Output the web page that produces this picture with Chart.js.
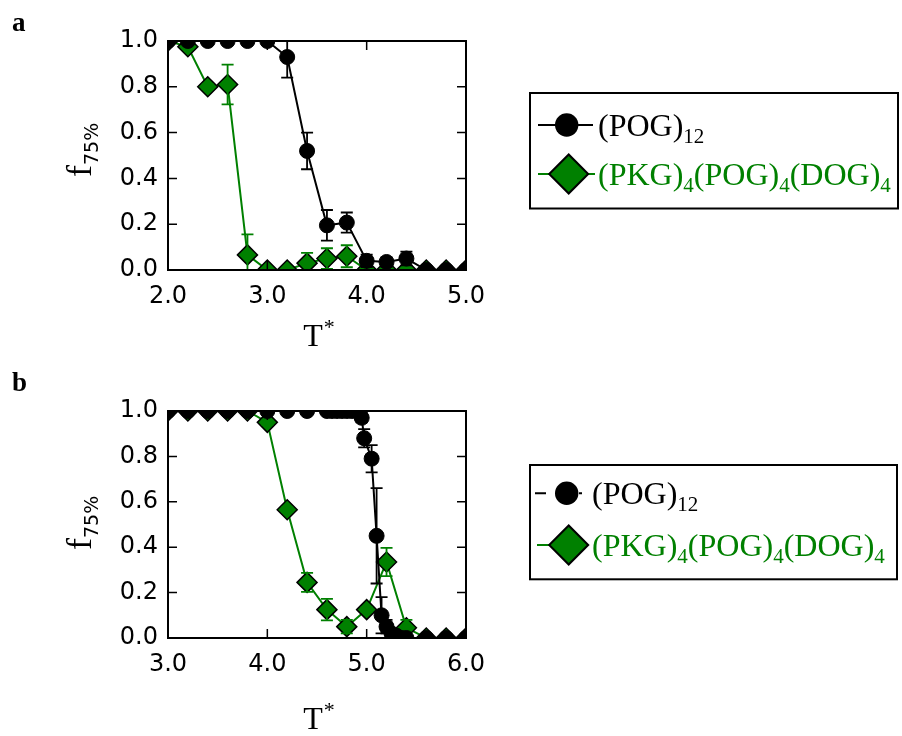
<!DOCTYPE html>
<html>
<head>
<meta charset="utf-8">
<script src="https://cdn.jsdelivr.net/npm/chart.js@4.4.0/dist/chart.umd.min.js"></script>
<style>
  html, body { margin: 0; padding: 0; background: #fff; }
  .panel { width: 902px; height: 368px; }
  canvas { display: block; }
</style>
</head>
<body>
<div class="panel"><canvas id="chartA" width="902" height="368"></canvas></div>
<div class="panel"><canvas id="chartB" width="902" height="368"></canvas></div>
<script>
// ---- panel a ----
const tempA   = [2.0, 2.2, 2.4, 2.6, 2.8, 3.0, 3.2, 3.4, 3.6, 3.8, 4.0, 4.2, 4.4, 4.6, 4.8, 5.0];
const pogA    = [1.00, 1.00, 1.00, 1.00, 1.00, 1.00, 0.93, 0.52, 0.195, 0.207, 0.04, 0.035, 0.05, 0.00, 0.00, 0.00];
const pogAErr = [0, 0, 0, 0, 0, 0, 0.09, 0.08, 0.067, 0.044, 0.027, 0.02, 0.03, 0, 0, 0];
const pkgA    = [1.00, 0.975, 0.80, 0.81, 0.066, 0.00, 0.00, 0.03, 0.05, 0.06, 0.00, 0.00, 0.00, 0.00, 0.00, 0.00];
const pkgAErr = [0, 0.01, 0.01, 0.087, 0.09, 0, 0, 0.045, 0.045, 0.048, 0, 0, 0, 0, 0, 0];
const xTicksA = [2.0, 3.0, 4.0, 5.0];

// ---- panel b ----
const tempB    = [3.0, 3.2, 3.4, 3.6, 3.8, 4.0, 4.2, 4.4, 4.6, 4.8, 5.0, 5.2, 5.4, 5.6, 5.8, 6.0];
const pkgB     = [1.00, 1.00, 1.00, 1.00, 1.00, 0.95, 0.565, 0.245, 0.125, 0.05, 0.125, 0.335, 0.045, 0.00, 0.00, 0.00];
const pkgBErr  = [0, 0, 0, 0, 0, 0.01, 0.01, 0.042, 0.047, 0.03, 0.01, 0.062, 0.035, 0, 0, 0];
const tempBPog = [3.0, 3.2, 3.4, 3.6, 3.8, 4.0, 4.2, 4.4, 4.6, 4.65, 4.7, 4.75, 4.8, 4.85, 4.9, 4.95,
                  4.975, 5.05, 5.1, 5.15, 5.2, 5.25, 5.3, 5.35, 5.4, 5.6, 5.8, 6.0];
const pogB     = [1, 1, 1, 1, 1, 1, 1, 1, 1, 1, 1, 1, 1, 1, 1, 0.97,
                  0.88, 0.79, 0.45, 0.10, 0.05, 0.02, 0.01, 0, 0, 0, 0, 0];
const pogBErr  = [0, 0, 0, 0, 0, 0, 0, 0, 0, 0, 0, 0, 0, 0, 0, 0.02,
                  0.04, 0.06, 0.21, 0.08, 0.03, 0.01, 0, 0, 0, 0, 0, 0];
const xTicksB  = [3.0, 4.0, 5.0, 6.0];

const yTicks = [0.0, 0.2, 0.4, 0.6, 0.8, 1.0];

const GREEN = '#008000';
const SERIF = '"Liberation Serif", "Times New Roman", serif';
const SANS = '"DejaVu Sans", sans-serif';

function pts(xs, ys) {
  return xs.map((x, i) => ({ x: x, y: ys[i] }));
}

// each dataset is clipped to the axes box; its error bars are drawn inside the same clip
const errorBars = {
  id: 'errorBars',
  beforeDatasetDraw(chart) {
    const { ctx, chartArea: a } = chart;
    ctx.save();
    ctx.beginPath();
    ctx.rect(a.left, a.top, a.right - a.left, a.bottom - a.top);
    ctx.clip();
  },
  afterDatasetDraw(chart, args) {
    const ds = chart.data.datasets[args.index];
    const ctx = chart.ctx;
    if (ds.errors) {
      const xs = chart.scales.x, ys = chart.scales.y;
      ctx.strokeStyle = ds.borderColor;
      ctx.lineWidth = 1.8;
      ds.data.forEach((p, i) => {
        const e = ds.errors[i];
        if (!e) return;
        const px = xs.getPixelForValue(p.x);
        const lo = ys.getPixelForValue(p.y - e);
        const hi = ys.getPixelForValue(p.y + e);
        ctx.beginPath();
        ctx.moveTo(px, lo); ctx.lineTo(px, hi);
        ctx.moveTo(px - 6, lo); ctx.lineTo(px + 6, lo);
        ctx.moveTo(px - 6, hi); ctx.lineTo(px + 6, hi);
        ctx.stroke();
      });
    }
    ctx.restore();
  }
};

// box frame with inward ticks on all four sides
const frame = {
  id: 'frame',
  afterDatasetsDraw(chart) {
    const { ctx, chartArea: a } = chart;
    ctx.save();
    ctx.strokeStyle = '#000';
    ctx.lineWidth = 1.5;
    ctx.beginPath();
    chart.scales.x.ticks.forEach(t => {
      const px = chart.scales.x.getPixelForValue(t.value);
      ctx.moveTo(px, a.bottom); ctx.lineTo(px, a.bottom - 9);
      ctx.moveTo(px, a.top); ctx.lineTo(px, a.top + 9);
    });
    chart.scales.y.ticks.forEach(t => {
      const py = chart.scales.y.getPixelForValue(t.value);
      ctx.moveTo(a.left, py); ctx.lineTo(a.left + 9, py);
      ctx.moveTo(a.right, py); ctx.lineTo(a.right - 9, py);
    });
    ctx.stroke();
    ctx.lineWidth = 2;
    ctx.strokeRect(a.left, a.top, a.right - a.left, a.bottom - a.top);
    ctx.restore();
  }
};

// text pieces with subscripts: [text, isSub]
function drawRich(ctx, x, y, parts, size, subSize, subDrop, color) {
  ctx.fillStyle = color;
  ctx.textBaseline = 'alphabetic';
  ctx.textAlign = 'left';
  parts.forEach(([txt, sub]) => {
    ctx.font = (sub ? subSize : size) + 'px ' + SERIF;
    ctx.fillText(txt, x, sub ? y + subDrop : y);
    x += ctx.measureText(txt).width;
  });
}

const decorations = {
  id: 'decorations',
  afterDraw(chart) {
    const o = chart.options.plugins.decorations;
    const { ctx, chartArea: a } = chart;
    ctx.save();

    // panel letter
    ctx.fillStyle = '#000';
    ctx.font = 'bold 27px ' + SERIF;
    ctx.textBaseline = 'alphabetic';
    ctx.fillText(o.letter, 12, o.letterY);

    // y axis title f_75%
    ctx.save();
    ctx.translate(91, o.yLabelBottom);
    ctx.rotate(-Math.PI / 2);
    ctx.font = '36px ' + SERIF;
    ctx.fillText('f', 0, 0);
    const fw = ctx.measureText('f').width;
    ctx.font = '19px ' + SANS;
    ctx.fillText('75%', fw, 7);
    ctx.restore();

    // x axis title T*
    ctx.font = '32px ' + SERIF;
    ctx.textAlign = 'left';
    const tw = ctx.measureText('T').width;
    const tx = (a.left + a.right) / 2 - (tw + 8) / 2;
    ctx.fillText('T', tx, o.xLabelY);
    ctx.font = '22px ' + SERIF;
    ctx.fillText('*', tx + tw + 1, o.xLabelY - 12);

    // legend
    const L = o.legend;
    ctx.strokeStyle = '#000';
    ctx.lineWidth = 2;
    ctx.strokeRect(L.box[0], L.box[1], L.box[2] - L.box[0], L.box[3] - L.box[1]);

    // row 1 line + circle
    ctx.beginPath();
    L.seg1.forEach(([x0, x1]) => { ctx.moveTo(x0, L.y1); ctx.lineTo(x1, L.y1); });
    ctx.stroke();
    ctx.beginPath();
    ctx.arc(L.mx, L.y1, 11.7, 0, Math.PI * 2);
    ctx.fillStyle = '#000';
    ctx.fill();

    // row 2 line + diamond
    ctx.strokeStyle = GREEN;
    ctx.beginPath();
    L.seg2.forEach(([x0, x1]) => { ctx.moveTo(x0, L.y2); ctx.lineTo(x1, L.y2); });
    ctx.stroke();
    const d = 19.5, cx = L.mx + 2;
    ctx.beginPath();
    ctx.moveTo(cx - d, L.y2); ctx.lineTo(cx, L.y2 - d);
    ctx.lineTo(cx + d, L.y2); ctx.lineTo(cx, L.y2 + d);
    ctx.closePath();
    ctx.fillStyle = GREEN;
    ctx.fill();
    ctx.strokeStyle = '#000';
    ctx.lineWidth = 2;
    ctx.stroke();

    drawRich(ctx, L.tx, L.y1 + 10.5, [['(POG)', false], ['12', true]], 32, 21, 7, '#000');
    drawRich(ctx, L.tx, L.y2 + 10.5, [['(PKG)', false], ['4', true], ['(POG)', false], ['4', true],
      ['(DOG)', false], ['4', true]], 32, 21, 7, GREEN);

    ctx.restore();
  }
};

function makeChart(id, cfg) {
  return new Chart(document.getElementById(id), {
    type: 'line',
    data: {
      datasets: [
        {
          label: '(POG)12',
          data: pts(cfg.pogX, cfg.pog),
          errors: cfg.pogErr,
          borderColor: '#000',
          borderWidth: 2,
          pointStyle: 'circle',
          pointRadius: 7.5,
          pointBackgroundColor: '#000',
          pointBorderColor: '#000',
          pointBorderWidth: 1,
          clip: false
        },
        {
          label: '(PKG)4(POG)4(DOG)4',
          data: pts(cfg.pkgX, cfg.pkg),
          errors: cfg.pkgErr,
          borderColor: GREEN,
          borderWidth: 2,
          pointStyle: 'rectRot',
          pointRadius: 10,
          pointBackgroundColor: GREEN,
          pointBorderColor: '#000',
          pointBorderWidth: 1.5,
          clip: false
        }
      ]
    },
    options: {
      responsive: false,
      animation: false,
      devicePixelRatio: 1,
      layout: { padding: { left: 0, right: 436, top: cfg.top, bottom: 0 } },
      scales: {
        x: {
          type: 'linear',
          min: cfg.xTicks[0],
          max: cfg.xTicks[cfg.xTicks.length - 1],
          afterBuildTicks: s => { s.ticks = cfg.xTicks.map(v => ({ value: v })); },
          afterFit: s => { s.height = 368 - 270; },
          grid: { display: false, drawTicks: false },
          border: { display: false },
          ticks: {
            color: '#000',
            padding: 12,
            maxRotation: 0,
            font: { family: SANS, size: 24 },
            callback: v => v.toFixed(1)
          }
        },
        y: {
          min: 0,
          max: 1,
          afterBuildTicks: s => { s.ticks = yTicks.map(v => ({ value: v })); },
          afterFit: s => { s.width = 168; },
          grid: { display: false, drawTicks: false },
          border: { display: false },
          ticks: {
            color: '#000',
            padding: 10,
            font: { family: SANS, size: 24 },
            callback: v => v.toFixed(1)
          }
        }
      },
      plugins: {
        legend: { display: false },
        tooltip: { enabled: false },
        decorations: cfg.deco
      }
    },
    plugins: [errorBars, frame, decorations]
  });
}

makeChart('chartA', {
  pogX: tempA, pog: pogA, pogErr: pogAErr,
  pkgX: tempA, pkg: pkgA, pkgErr: pkgAErr,
  xTicks: xTicksA, top: 41,
  deco: {
    letter: 'a', letterY: 31, yLabelBottom: 177, xLabelY: 346,
    legend: {
      box: [530, 93, 898, 208.5], y1: 125, y2: 174, mx: 566.7, tx: 598,
      seg1: [[538, 593]], seg2: [[538, 595]]
    }
  }
});

makeChart('chartB', {
  pogX: tempBPog, pog: pogB, pogErr: pogBErr,
  pkgX: tempB, pkg: pkgB, pkgErr: pkgBErr,
  xTicks: xTicksB, top: 43,
  deco: {
    letter: 'b', letterY: 23, yLabelBottom: 182, xLabelY: 361,
    legend: {
      box: [530, 97, 897, 211.3], y1: 125.3, y2: 177, mx: 566.7, tx: 592,
      seg1: [[535, 546], [579, 582]], seg2: [[537, 550], [580, 582]]
    }
  }
});
</script>
</body>
</html>
